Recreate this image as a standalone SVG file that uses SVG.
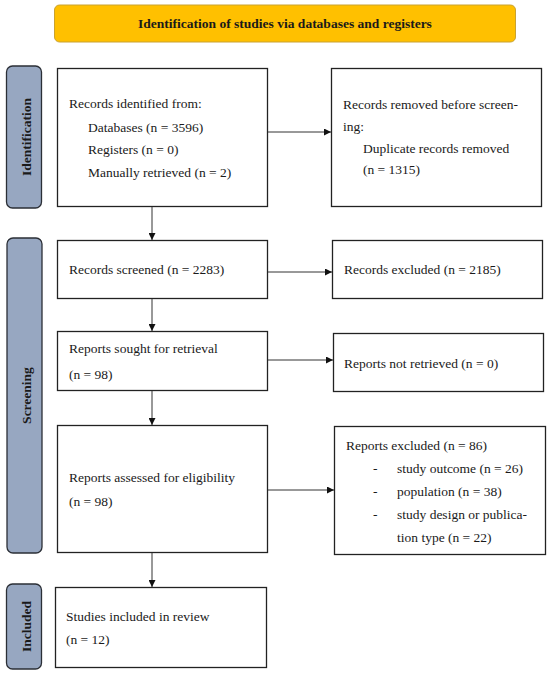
<svg xmlns="http://www.w3.org/2000/svg" width="550" height="674" viewBox="0 0 550 674">
<defs>
<marker id="ah" viewBox="0 0 10 10" refX="10" refY="5" markerWidth="7" markerHeight="7" markerUnits="userSpaceOnUse" orient="auto">
<path d="M0,0 L10,5 L0,10 Z" fill="#111"/>
</marker>
<style>
.box{fill:#fff;stroke:#222;stroke-width:1.3}
.tab{fill:#97A7C1;stroke:#2b2f36;stroke-width:1.3}
.t{font-family:"Liberation Serif","Times New Roman",serif;font-size:13.5px;fill:#1a1a1a}
.b{font-family:"Liberation Serif","Times New Roman",serif;font-size:13.5px;font-weight:bold;fill:#1a1a1a}
.c{stroke:#333;stroke-width:1;fill:none;marker-end:url(#ah)}
</style>
</defs>
<rect width="550" height="674" fill="#fff"/>
<g id="title">
<rect x="54.5" y="5" width="461" height="37" rx="5" fill="#FFC000" stroke="#C9A230" stroke-width="1"/>
<text class="b" x="285" y="28" text-anchor="middle" font-size="12.5">Identification of studies via databases and registers</text>
</g>
<g id="tab-identification">
<rect class="tab" x="6.5" y="66" width="35" height="142" rx="6"/>
<text class="b" transform="translate(31,137) rotate(-90)" text-anchor="middle">Identification</text>
</g>
<g id="tab-screening">
<rect class="tab" x="7" y="238" width="35" height="315" rx="6"/>
<text class="b" transform="translate(31,395.5) rotate(-90)" text-anchor="middle">Screening</text>
</g>
<g id="tab-included">
<rect class="tab" x="6.5" y="584" width="35" height="85" rx="6"/>
<text class="b" transform="translate(31,626.5) rotate(-90)" text-anchor="middle">Included</text>
</g>
<g id="n-identified">
<rect class="box" x="57.5" y="68.5" width="210" height="138"/>
<text class="t" x="69" y="108">Records identified from:</text>
<text class="t" x="88" y="132">Databases (n = 3596)</text>
<text class="t" x="88" y="154">Registers (n = 0)</text>
<text class="t" x="88" y="177">Manually retrieved (n = 2)</text>
</g>
<g id="n-removed">
<rect class="box" x="331.5" y="68.5" width="210" height="138"/>
<text class="t" x="343" y="109">Records removed before screen-</text>
<text class="t" x="343" y="131">ing:</text>
<text class="t" x="363" y="153">Duplicate records removed</text>
<text class="t" x="363" y="174">(n = 1315)</text>
</g>
<g id="n-screened">
<rect class="box" x="57.5" y="240.5" width="210" height="58"/>
<text class="t" x="69" y="274">Records screened (n = 2283)</text>
</g>
<g id="n-excluded">
<rect class="box" x="332.5" y="240.5" width="210" height="58"/>
<text class="t" x="344" y="274">Records excluded (n = 2185)</text>
</g>
<g id="n-sought">
<rect class="box" x="57.5" y="331.5" width="210" height="59"/>
<text class="t" x="69" y="353">Reports sought for retrieval</text>
<text class="t" x="69" y="379">(n = 98)</text>
</g>
<g id="n-notretrieved">
<rect class="box" x="333.5" y="333.5" width="210" height="58"/>
<text class="t" x="344" y="368">Reports not retrieved (n = 0)</text>
</g>
<g id="n-assessed">
<rect class="box" x="57.5" y="425.5" width="210" height="127"/>
<text class="t" x="69" y="482">Reports assessed for eligibility</text>
<text class="t" x="69" y="506">(n = 98)</text>
</g>
<g id="n-reportsexcluded">
<rect class="box" x="334.5" y="426.5" width="211" height="128"/>
<text class="t" x="346" y="450">Reports excluded (n = 86)</text>
<text class="t" x="373" y="473">-</text>
<text class="t" x="397" y="473">study outcome (n = 26)</text>
<text class="t" x="373" y="496">-</text>
<text class="t" x="397" y="496">population (n = 38)</text>
<text class="t" x="373" y="519">-</text>
<text class="t" x="397" y="519">study design or publica-</text>
<text class="t" x="397" y="542">tion type (n = 22)</text>
</g>
<g id="n-included">
<rect class="box" x="55.5" y="587.5" width="211" height="80"/>
<text class="t" x="66" y="621">Studies included in review</text>
<text class="t" x="66" y="644">(n = 12)</text>
</g>
<g id="connectors">
<line class="c" x1="268" y1="132" x2="331" y2="132"/>
<line class="c" x1="152" y1="207" x2="152" y2="240"/>
<line class="c" x1="268" y1="272" x2="332" y2="272"/>
<line class="c" x1="152" y1="299" x2="152" y2="331"/>
<line class="c" x1="268" y1="360" x2="333" y2="360"/>
<line class="c" x1="152" y1="391" x2="152" y2="425"/>
<line class="c" x1="268" y1="490" x2="334" y2="490"/>
<line class="c" x1="152" y1="553" x2="152" y2="587"/>
</g>
</svg>
